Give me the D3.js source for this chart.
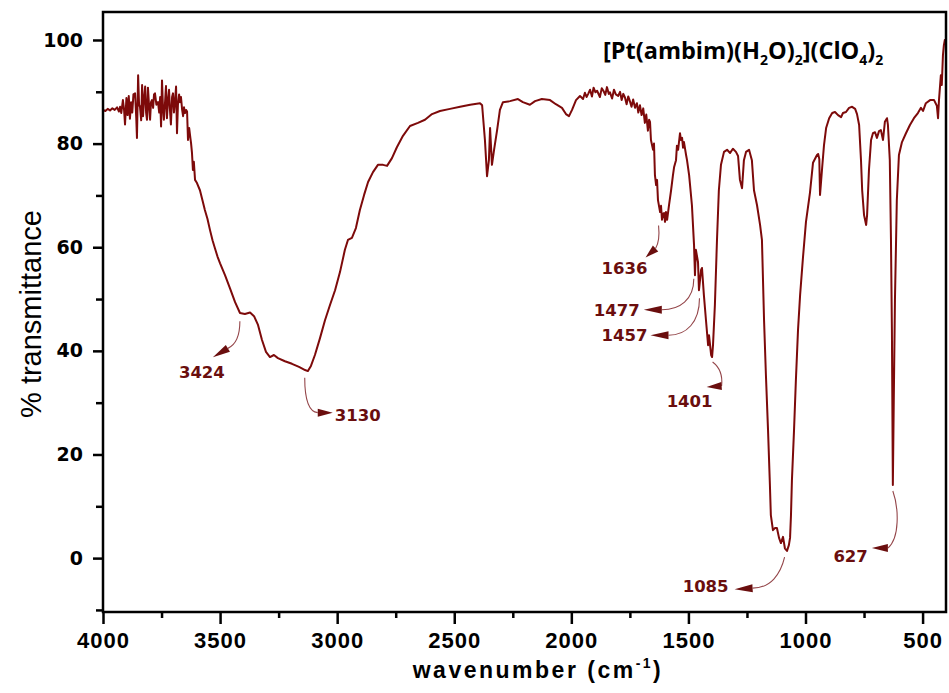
<!DOCTYPE html>
<html>
<head>
<meta charset="utf-8">
<script src="https://cdn.jsdelivr.net/npm/d3@7/dist/d3.min.js"></script>
<style>
  html, body { margin: 0; padding: 0; background: #fff; }
  svg { display: block; }
</style>
</head>
<body>
<svg id="chart" width="949" height="693"></svg>
<script>
// IR spectrum of [Pt(ambim)(H2O)2](ClO4)2 — wavenumber (cm-1) vs % transmittance
const wavenumber = [
  4000,3990,3980,3970,3960,3950,3940,3932,3927,3922,3915,3910,3906,3900,3895,3890,3885,3880,3875,3870,
  3863,3858,3855,3850,3846,3842,3837,3833,3829,3824,3820,3816,3812,3808,3803,3799,3795,3791,3786,3782,
  3778,3772,3765,3760,3756,3752,3748,3744,3740,3735,3731,3727,3722,3718,3714,3710,3705,3701,3697,3692,
  3688,3684,3680,3675,3671,3667,3662,3658,3654,3650,3645,3641,3637,3632,3628,3624,3620,3616,3612,3607,
  3600,3586,3575,3565,3554,3543,3532,3522,3511,3500,3479,3458,3436,3415,3394,3372,3355,3338,3321,3304,
  3287,3270,3253,3223,3193,3163,3137,3125,3112,3095,3073,3052,3031,3009,2988,2967,2954,2937,2920,2903,
  2885,2868,2847,2826,2804,2787,2766,2745,2719,2689,2655,2625,2595,2561,2518,2475,2432,2390,2381,2369,
  2360,2352,2347,2339,2330,2317,2305,2292,2262,2228,2207,2177,2155,2126,2091,2066,2040,2023,2010,1997,
  1980,1963,1950,1942,1935,1928,1920,1912,1905,1897,1890,1878,1870,1862,1855,1848,1840,1835,1826,1818,
  1810,1800,1792,1785,1778,1771,1764,1757,1750,1743,1736,1728,1720,1714,1707,1700,1693,1686,1680,1673,
  1668,1664,1660,1651,1647,1643,1638,1634,1630,1621,1617,1613,1608,1604,1600,1596,1591,1583,1574,1566,
  1561,1553,1549,1544,1536,1532,1527,1523,1519,1510,1506,1497,1493,1485,1476,1472,1468,1459,1455,1446,
  1442,1434,1425,1416,1412,1403,1399,1395,1387,1378,1370,1361,1348,1335,1322,1310,1297,1288,1280,1271,
  1263,1254,1241,1229,1220,1207,1194,1186,1177,1169,1160,1152,1148,1139,1130,1122,1113,1105,1096,1088,
  1079,1071,1066,1062,1058,1049,1041,1032,1023,1011,998,981,968,951,946,941,938,929,921,912,
  899,886,874,861,848,840,827,814,801,788,780,771,763,758,750,741,737,729,720,712,
  703,695,686,678,669,661,652,648,640,635,631,627,623,618,610,601,588,571,554,537,
  520,507,498,486,468,451,439,434,430,422,418,413,409,405,400
];
const transmittance = [
  86.5,86.3,86.7,86.4,86.8,86.5,87.0,86.2,87.1,85.9,88.4,86.5,83.7,88.8,85.5,89.2,84.8,88.0,86.0,89.5,
  89.7,85.0,81.1,93.2,87.5,87.1,84.5,91.3,85.3,89.0,91.0,86.0,84.6,90.8,87.0,84.6,88.0,88.4,86.9,89.5,
  89.7,87.5,88.0,86.0,89.0,83.3,92.2,87.0,84.6,88.0,91.1,84.9,88.5,90.4,86.5,83.7,89.0,89.7,86.0,88.5,
  91.0,82.0,87.5,89.5,88.0,89.0,86.5,85.3,87.0,85.9,86.5,86.2,80.7,83.0,81.5,80.1,78.2,74.9,76.5,73.0,
  72.5,71.0,69.0,67.2,65.5,63.3,61.3,59.8,58.2,56.9,54.6,52.1,49.4,47.3,47.1,47.4,46.7,45.0,42.1,39.8,
  38.8,39.2,38.6,38.0,37.5,36.9,36.3,36.1,37.1,39.2,42.5,45.9,48.8,51.7,55.2,59.5,61.4,61.8,63.7,67.2,
  70.1,72.6,74.5,75.9,75.9,75.7,77.2,79.3,81.5,83.4,84.0,84.6,85.7,86.3,86.7,87.1,87.5,87.8,87.4,80.7,
  73.7,76.8,83.0,75.9,78.8,82.6,86.5,88.0,88.2,88.6,88.0,87.5,88.2,88.6,88.4,87.6,86.9,85.7,85.3,86.5,
  88.4,89.2,88.6,89.8,89.0,89.6,90.4,89.1,90.8,89.9,90.2,89.0,90.7,90.1,89.4,90.9,89.6,89.9,88.7,90.4,
  89.5,89.2,90.0,88.4,89.6,88.9,87.6,89.1,88.2,87.1,88.5,86.9,87.8,86.0,87.4,85.5,86.8,84.0,85.6,82.5,
  84.6,84.2,80.7,78.8,80.0,73.9,72.0,73.0,69.1,66.8,68.0,65.3,66.5,66.6,64.9,66.8,65.3,68.1,71.0,73.9,
  75.5,76.8,79.6,78.8,82.0,80.7,81.1,79.2,80.3,77.8,76.8,73.9,72.0,68.1,60.4,54.6,59.5,57.1,51.7,55.6,
  56.0,50.8,45.9,41.1,43.0,39.2,38.8,41.1,48.8,61.4,71.0,75.9,78.4,78.8,78.2,79.0,78.4,77.6,73.0,71.4,
  76.8,78.4,78.8,76.8,71.0,68.1,64.3,61.4,45.9,35.3,24.7,14.1,8.3,5.4,5.8,5.8,3.9,2.9,4.1,1.9,
  1.4,2.5,3.9,8.3,15.0,24.7,34.4,44.0,50.8,57.9,64.9,70.5,76.3,77.8,78.0,77.0,70.1,75.3,79.7,83.0,
  84.9,85.9,86.1,85.5,85.1,85.9,86.1,86.9,87.1,86.7,85.7,83.6,76.8,71.0,66.2,64.3,66.2,74.9,80.7,82.0,
  82.2,81.1,82.4,82.6,80.7,84.2,84.9,83.6,76.8,61.4,44.0,14.1,30.5,49.8,69.1,77.8,80.3,82.0,83.6,84.9,
  85.9,86.9,86.3,87.8,88.4,88.4,87.3,84.9,88.4,93.2,91.3,97.1,99.0,100.0,99.6
];

// labelled band positions (cm-1)
const peakLabels = ["3424", "3130", "1636", "1477", "1457", "1401", "1085", "627"];
const peakPositions = [3424, 3130, 1636, 1477, 1457, 1401, 1085, 627];

// axis ticks
const xMajorTicks = [4000, 3500, 3000, 2500, 2000, 1500, 1000, 500];
const xMinorTicks = [3750, 3250, 2750, 2250, 1750, 1250, 750];
const yMajorTicks = [0, 20, 40, 60, 80, 100];
const yMinorTicks = [-10, 10, 30, 50, 70, 90];

const svg = d3.select("#chart");
const plot = { left: 103, right: 946, top: 12, bottom: 612 };

const x = d3.scaleLinear().domain([4000, 400]).range([plot.left, plot.right]);
const y = d3.scaleLinear().domain([-10.4, 105.4]).range([plot.bottom, plot.top]);

const curveColor = "#7d0a0a";
const labelColor = "#6a0e0e";
const leaderColor = "#94464a";

// spectrum trace
const pts = wavenumber.map((w, i) => [w, transmittance[i]]);
svg.append("path")
  .datum(pts)
  .attr("fill", "none")
  .attr("stroke", curveColor)
  .attr("stroke-width", 2)
  .attr("stroke-linejoin", "round")
  .attr("d", d3.line().x(d => x(d[0])).y(d => y(d[1])));

// frame
svg.append("rect")
  .attr("x", plot.left).attr("y", plot.top)
  .attr("width", plot.right - plot.left).attr("height", plot.bottom - plot.top)
  .attr("fill", "none").attr("stroke", "#000").attr("stroke-width", 2.5);

// x axis
const gx = svg.append("g").attr("transform", `translate(0,${plot.bottom})`);
gx.call(d3.axisBottom(x).tickValues(xMajorTicks).tickSize(12).tickPadding(8).tickFormat(d3.format("d")));
const gxm = svg.append("g").attr("transform", `translate(0,${plot.bottom})`);
gxm.call(d3.axisBottom(x).tickValues(xMinorTicks).tickSize(6).tickFormat(""));

// y axis
const gy = svg.append("g").attr("transform", `translate(${plot.left},0)`);
gy.call(d3.axisLeft(y).tickValues(yMajorTicks).tickSize(10).tickPadding(10).tickFormat(d3.format("d")));
const gym = svg.append("g").attr("transform", `translate(${plot.left},0)`);
gym.call(d3.axisLeft(y).tickValues(yMinorTicks).tickSize(7).tickFormat(""));

svg.selectAll(".domain").remove();
svg.selectAll(".tick line").attr("stroke", "#000").attr("stroke-width", 2.5);
gx.selectAll(".tick text")
  .attr("fill", "#000")
  .style("font-family", "'Liberation Sans', Arial, sans-serif")
  .style("font-weight", "700")
  .style("font-size", "22px")
  .style("letter-spacing", "1px");
gy.selectAll(".tick text")
  .attr("fill", "#000")
  .style("font-family", "'DejaVu Sans', sans-serif")
  .style("font-weight", "700")
  .style("font-size", "19px");

// axis titles
const xt = svg.append("text")
  .attr("x", 538).attr("y", 678)
  .attr("text-anchor", "middle")
  .style("font-family", "'Liberation Sans', Arial, sans-serif")
  .style("font-weight", "700")
  .style("font-size", "23px")
  .style("letter-spacing", "2.5px");
xt.append("tspan").text("wavenumber (cm");
xt.append("tspan").attr("dy", -10).style("font-size", "14px").text("-1");
xt.append("tspan").attr("dy", 10).text(")");

svg.append("text")
  .attr("transform", "translate(41,314) rotate(-90)")
  .attr("text-anchor", "middle")
  .style("font-family", "'Liberation Sans', Arial, sans-serif")
  .style("font-size", "29px")
  .text("% transmittance");

// compound name
const title = svg.append("text")
  .attr("x", 603).attr("y", 59)
  .style("font-family", "'Open Sans', sans-serif")
  .style("font-weight", "700")
  .style("font-size", "23.5px")
  .attr("fill", "#000");
const sub = (t) => { title.append("tspan").attr("dy", 6).style("font-size", "14px").text(t); };
const norm = (t) => { title.append("tspan").attr("dy", -6).text(t); };
title.append("tspan").text("[Pt(ambim)(H");
sub("2"); norm("O)"); sub("2"); norm("](ClO"); sub("4"); norm(")"); sub("2");

// band annotations: leader curve, arrowhead and value, placed relative to the band point on the trace
const interpT = (w) => {
  for (let i = 0; i < wavenumber.length - 1; i++) {
    const a = wavenumber[i], b = wavenumber[i + 1];
    if (w <= a && w >= b) {
      const t = (a - w) / (a - b);
      return transmittance[i] + t * (transmittance[i + 1] - transmittance[i]);
    }
  }
  return transmittance[transmittance.length - 1];
};

// s: leader start, c1/c2: bezier controls, e: arrow base, tip: arrow point, t: text position
const layouts = {
  "3424": { s: [2, 13], c1: [2, 27], c2: [-1, 36], e: [-10, 40], tip: [-25, 49], t: [-36, 70], anchor: "middle" },
  "3130": { s: [-2, 7], c1: [-2, 28], c2: [2, 41], e: [11, 42], tip: [26, 42], t: [28, 50], anchor: "start" },
  "1636": { s: [2, 43], c1: [3, 53], c2: [2, 61], e: [-1, 66], tip: [-11, 75], t: [-32, 92], anchor: "middle" },
  "1477": { s: [0, 38], c1: [0, 59], c2: [-14, 69], e: [-32, 69], tip: [-50, 69], t: [-54, 75], anchor: "end" },
  "1457": { s: [1, 22], c1: [1, 46], c2: [-12, 59], e: [-30, 59], tip: [-48, 59], t: [-51, 65], anchor: "end" },
  "1401": { s: [1, 6], c1: [9, 12], c2: [11, 21], e: [10, 30], tip: [-5, 31], t: [-22, 51], anchor: "middle" },
  "1085": { s: [-1, 8], c1: [-5, 25], c2: [-15, 39], e: [-33, 39], tip: [-51, 40], t: [-57, 43], anchor: "end" },
  "627":  { s: [0, 6], c1: [6, 23], c2: [7, 53], e: [-5, 63], tip: [-21, 63], t: [-25, 77], anchor: "end" }
};

const ann = svg.append("g");
peakPositions.forEach((w, i) => {
  const lbl = peakLabels[i];
  const L = layouts[lbl];
  const ax = x(w), ay = y(interpT(w));
  const P = (o) => [ax + o[0], ay + o[1]];
  const s = P(L.s), c1 = P(L.c1), c2 = P(L.c2), e = P(L.e), tip = P(L.tip), t = P(L.t);

  const path = d3.path();
  path.moveTo(s[0], s[1]);
  path.bezierCurveTo(c1[0], c1[1], c2[0], c2[1], e[0], e[1]);
  ann.append("path").attr("d", path.toString())
    .attr("fill", "none").attr("stroke", leaderColor).attr("stroke-width", 1.1);

  // arrowhead triangle
  const dx = tip[0] - e[0], dy = tip[1] - e[1];
  const len = Math.hypot(dx, dy);
  const nx = -dy / len, ny = dx / len, hw = 4;
  const tri = [[e[0] + nx * hw, e[1] + ny * hw], tip, [e[0] - nx * hw, e[1] - ny * hw]];
  ann.append("path").attr("d", "M" + tri.map(p => p.join(",")).join("L") + "Z")
    .attr("fill", labelColor);

  ann.append("text")
    .attr("x", t[0]).attr("y", t[1])
    .attr("text-anchor", L.anchor)
    .attr("fill", labelColor)
    .style("font-family", "'DejaVu Sans', sans-serif")
    .style("font-weight", "700")
    .style("font-size", "16.5px")
    .text(lbl);
});
</script>
</body>
</html>
